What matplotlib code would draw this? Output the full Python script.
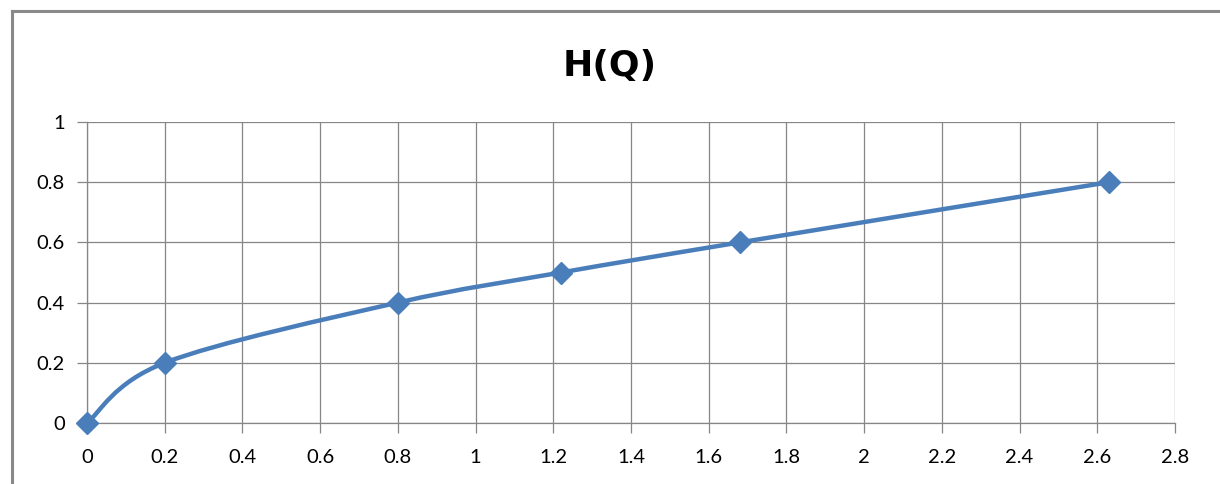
import numpy as np
import matplotlib.pyplot as plt
from matplotlib.path import Path
from matplotlib.patches import PathPatch
from matplotlib.lines import Line2D

# H(Q) points
q = [0, 0.2, 0.8, 1.22, 1.68, 2.63]
h = [0, 0.2, 0.4, 0.5, 0.6, 0.8]
x_ticks = [0, 0.2, 0.4, 0.6, 0.8, 1, 1.2, 1.4, 1.6, 1.8, 2, 2.2, 2.4, 2.6, 2.8]
y_ticks = [0, 0.2, 0.4, 0.6, 0.8, 1]

blue = '#4a7ebb'
grid = '#868686'

plt.rcParams['font.family'] = ['Lato', 'DejaVu Sans']

fig = plt.figure(figsize=(12.2, 4.84), dpi=100)
ax = fig.add_axes([87 / 1220, 1 - 423 / 484, (1175 - 87) / 1220, (423 - 122) / 484])

# smoothed line like a spreadsheet chart: cubic bezier segments through the points
pts = np.column_stack([q, h])
verts = [pts[0]]
codes = [Path.MOVETO]
for i in range(len(pts) - 1):
    p0 = pts[max(i - 1, 0)]
    p1 = pts[i]
    p2 = pts[i + 1]
    p3 = pts[min(i + 2, len(pts) - 1)]
    verts += [p1 + (p2 - p0) / 6, p2 - (p3 - p1) / 6, p2]
    codes += [Path.CURVE4] * 3
ax.add_patch(PathPatch(Path(verts, codes), facecolor='none', edgecolor=blue,
                       lw=3.2, capstyle='round', joinstyle='round', zorder=3))
ax.plot(q, h, linestyle='none', marker='D', markersize=11, color=blue,
        clip_on=False, zorder=4)

ax.set_xlim(0, 2.8)
ax.set_ylim(0, 1)
ax.set_xticks(x_ticks)
ax.set_yticks(y_ticks)
ax.set_xticklabels(['%g' % v for v in x_ticks])
ax.set_yticklabels(['%g' % v for v in y_ticks])
ax.grid(True, color=grid, lw=0.9)
ax.set_axisbelow(True)
for s in ['top', 'right']:
    ax.spines[s].set_visible(False)
for s in ['left', 'bottom']:
    ax.spines[s].set_color(grid)
    ax.spines[s].set_linewidth(0.9)
ax.tick_params(axis='both', colors=grid, width=0.9, length=7, labelsize=14.5,
               labelcolor='black')
ax.tick_params(axis='x', pad=12)
ax.tick_params(axis='y', pad=9)

fig.text(0.5, 1 - 66 / 484, 'H(Q)', ha='center', va='center',
         fontsize=26, fontweight='bold', family=['DejaVu Sans'])

# outer chart border (only left and top edges visible)
fig.add_artist(Line2D([11.5 / 1220, 11.5 / 1220], [0, 1 - 10.5 / 484],
                      color='#898989', lw=2.2, transform=fig.transFigure))
fig.add_artist(Line2D([11.5 / 1220, 1], [1 - 10.5 / 484, 1 - 10.5 / 484],
                      color='#898989', lw=2.2, transform=fig.transFigure))

fig.savefig('out.png', dpi=100)
